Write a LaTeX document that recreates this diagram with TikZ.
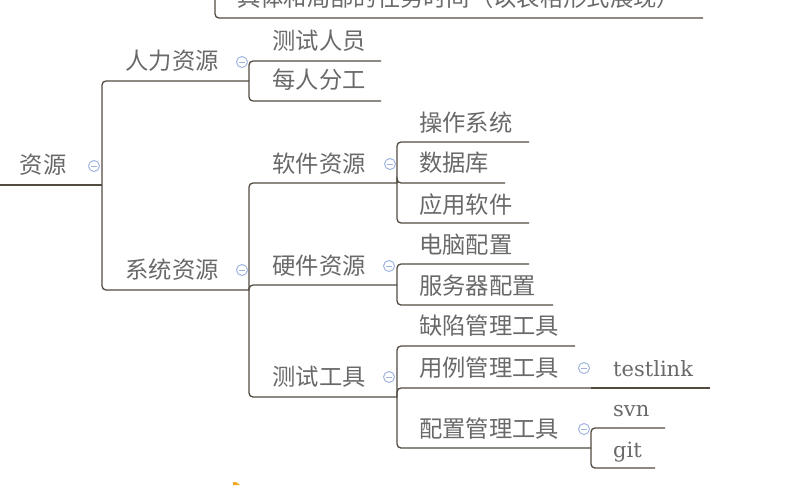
\documentclass[tikz,border=0pt]{standalone}
\usepackage{fontspec}
\setmainfont{Noto Sans CJK SC}
\newfontfamily\slab{DejaVu Serif}
\usetikzlibrary{positioning}
\definecolor{txtgrey}{RGB}{105,105,105}
\definecolor{lngrey}{RGB}{82,75,64}
\definecolor{icblue}{RGB}{160,180,225}
\definecolor{cursororange}{RGB}{245,165,30}

\begin{document}
\begin{tikzpicture}[x=1pt,y=-1pt]
\tikzstyle{tp}=[draw=none,inner sep=0pt,text=txtgrey,font=\fontsize{23.3}{26}\selectfont]
\tikzstyle{en}=[tp,anchor=base west,font=\slab\fontsize{21}{24}\selectfont]
\tikzstyle{ln}=[draw=lngrey,line width=1.3pt,rounded corners=4pt]
\tikzstyle{ic}=[circle,draw=icblue,line width=1pt,minimum size=11pt,inner sep=0pt,
  path picture={\draw[icblue,line width=1pt] ([xshift=-2.8pt]path picture bounding box.center) -- ([xshift=2.8pt]path picture bounding box.center);}]

\useasboundingbox (0,0) rectangle (808,485);
\clip (0,0) rectangle (808,485);

% topics
\node[tp,anchor=west] (task) at (237,-2) {具体和局部的任务时间（以表格形式展现）};
\node[tp] (root) at (43,165) {资源};
\node[tp] (hr) at (172,61) {人力资源};
\node[tp] (sys) at (172,270) {系统资源};
\node[tp] (tester) at (319,40.5) {测试人员};
\node[tp] (duty) at (319,80) {每人分工};
\node[tp] (sw) at (319,163.5) {软件资源};
\node[tp] (hw) at (319,265.5) {硬件资源};
\node[tp] (tools) at (319,377) {测试工具};
\node[tp,anchor=west] (os) at (419,123) {操作系统};
\node[tp,anchor=west] (db) at (419,163) {数据库};
\node[tp,anchor=west] (app) at (419,204.5) {应用软件};
\node[tp,anchor=west] (pc) at (419,244.5) {电脑配置};
\node[tp,anchor=west] (srv) at (419,285.5) {服务器配置};
\node[tp,anchor=west] (bug) at (419,326) {缺陷管理工具};
\node[tp,anchor=west] (case) at (419,367.5) {用例管理工具};
\node[tp,anchor=west] (cfg) at (419,428.5) {配置管理工具};
\node[en] (tl) at (613,376) {testlink};
\node[en] (svn) at (613,416) {svn};
\node[en] (git) at (613,457) {git};

% collapse marks
\node[ic] (ic-root) at (94,166) {};
\node[ic] (ic-hr) at (242,62) {};
\node[ic] (ic-sys) at (242,270) {};
\node[ic] (ic-sw) at (390,164) {};
\node[ic] (ic-hw) at (389,266) {};
\node[ic] (ic-tools) at (389,377) {};
\node[ic] (ic-case) at (584,368) {};
\node[ic] (ic-cfg) at (584,429) {};

% underline ends
\coordinate (root-a) at (0,185);
\coordinate (root-e) at (102,185);
\coordinate (task-a) at (215,-20);
\coordinate (task-e) at (703,18);
\coordinate (hr-e) at (249,81);
\coordinate (sys-e) at (249,290);
\coordinate (tester-e) at (381,61);
\coordinate (duty-e) at (381,101);
\coordinate (sw-e) at (397,183);
\coordinate (hw-e) at (397,285);
\coordinate (tools-e) at (397,397);
\coordinate (os-e) at (529,142);
\coordinate (db-e) at (505,183);
\coordinate (app-e) at (529,223);
\coordinate (pc-e) at (529,264);
\coordinate (srv-e) at (553,305);
\coordinate (bug-e) at (575,346);
\coordinate (case-e) at (591,388);
\coordinate (cfg-e) at (591,448);
\coordinate (tl-e) at (710,388);
\coordinate (svn-e) at (665,428);
\coordinate (git-e) at (655,468);

\draw[ln] (task-a) |- (task-e);
\draw[ln] (root-a) -- (root-e);
\draw[ln] (root-e) |- (hr-e);
\draw[ln] (root-e) |- (sys-e);
\draw[ln] (hr-e) |- (tester-e);
\draw[ln] (hr-e) |- (duty-e);
\draw[ln] (sys-e) |- (sw-e);
\draw[ln] (sys-e) |- (hw-e);
\draw[ln] (sys-e) |- (tools-e);
\draw[ln] (sw-e) |- (os-e);
\draw[ln] (sw-e) |- (db-e);
\draw[ln] (sw-e) |- (app-e);
\draw[ln] (hw-e) |- (pc-e);
\draw[ln] (hw-e) |- (srv-e);
\draw[ln] (tools-e) |- (bug-e);
\draw[ln] (tools-e) |- (case-e);
\draw[ln] (tools-e) |- (cfg-e);
\draw[ln] (case-e) -- (tl-e);
\draw[ln] (cfg-e) |- (svn-e);
\draw[ln] (cfg-e) |- (git-e);

%\draw[dotted] (root-a) -- (task-a);
\fill[cursororange] (233,482) -- (236,482) -- (240,485) -- (233,485) -- cycle;
\end{tikzpicture}
\end{document}
